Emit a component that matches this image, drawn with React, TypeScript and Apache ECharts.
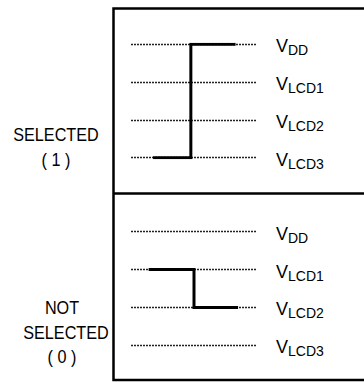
import React, { useEffect, useRef } from "react";
import * as echarts from "echarts";

// Voltage levels, bottom to top
const levelValues = [0, 1, 2, 3];
const levelNames = ["LCD3", "LCD2", "LCD1", "DD"];

// Time axis (arbitrary units across the dotted reference lines)
const timeMin = 0;
const timeMax = 10;

// Waveforms: [time, level]
const selectedWave: [number, number][] = [
  [1.75, 0],
  [4.75, 0],
  [4.75, 3],
  [8.3, 3],
];
const notSelectedWave: [number, number][] = [
  [1.4, 2],
  [5.0, 2],
  [5.0, 1],
  [8.5, 1],
];

// Panel annotations
const panelLabels = [
  ["SELECTED", "( 1 )"],
  ["NOT", "SELECTED", "( 0 )"],
];

const FONT = '"Liberation Sans Narrow", "Liberation Sans", Arial, sans-serif';
const FONT_L = '"Liberation Sans", Arial, sans-serif';

export default function App() {
  const ref = useRef<HTMLDivElement>(null);

  useEffect(() => {
    if (!ref.current) return;
    const chart = echarts.init(ref.current, null, { renderer: "svg" });

    const grids = [
      { left: 131, width: 126, top: 44.3, height: 113.4 },
      { left: 131, width: 126, top: 231.7, height: 113.6 },
    ];

    const makeYAxis = (gridIndex: number) => ({
      type: "value" as const,
      gridIndex,
      min: 0,
      max: 3,
      interval: 1,
      position: "right" as const,
      axisLine: { show: false },
      axisTick: { show: false },
      splitLine: {
        show: true,
        lineStyle: { type: [2, 1], color: "#222", width: 1.3 },
      },
      axisLabel: {
        margin: 19,
        formatter: (v: number) => {
          const i = levelValues.indexOf(v);
          return i >= 0 ? `{v|V}{s|${levelNames[i]}}` : "";
        },
        rich: {
          v: {
            fontFamily: FONT,
            fontSize: 18,
            color: "#000",
            lineHeight: 26,
            verticalAlign: "middle",
            padding: [4, 0, 0, 0],
          },
          s: {
            fontFamily: FONT,
            fontSize: 14,
            color: "#000",
            lineHeight: 26,
            verticalAlign: "bottom",
          },
        },
      },
    });

    const makeXAxis = (gridIndex: number) => ({
      type: "value" as const,
      gridIndex,
      min: timeMin,
      max: timeMax,
      show: false,
    });

    const waveSeries = (data: [number, number][], idx: number) => ({
      type: "line" as const,
      xAxisIndex: idx,
      yAxisIndex: idx,
      data,
      symbol: "none",
      lineStyle: { color: "#000", width: 3, cap: "butt", join: "miter" },
      z: 5,
    });

    const textEls: any[] = [];
    const labelPos = [
      { xs: [56, 56], ys: [135, 160] },
      { xs: [62, 66, 62], ys: [308, 333, 357] },
    ];
    panelLabels.forEach((lines, p) => {
      lines.forEach((t, i) => {
        textEls.push({
          type: "text",
          x: labelPos[p].xs[i],
          y: labelPos[p].ys[i],
          scaleX: 0.9,
          style: {
            text: t,
            fill: "#000",
            font: `18px ${FONT_L}`,
            textAlign: "center",
            textVerticalAlign: "middle",
          },
        });
      });
    });

    chart.setOption({
      animation: false,
      grid: grids,
      xAxis: [makeXAxis(0), makeXAxis(1)],
      yAxis: [makeYAxis(0), makeYAxis(1)],
      series: [waveSeries(selectedWave, 0), waveSeries(notSelectedWave, 1)],
      graphic: [
        {
          type: "polyline",
          shape: {
            points: [
              [400, 8.5],
              [113.5, 8.5],
              [113.5, 380],
              [400, 380],
            ],
          },
          style: { stroke: "#000", lineWidth: 2.5, fill: null },
        },
        {
          type: "line",
          shape: { x1: 113.5, y1: 193.5, x2: 400, y2: 193.5 },
          style: { stroke: "#000", lineWidth: 2.5 },
        },
        ...textEls,
      ],
    });

    return () => chart.dispose();
  }, []);

  return (
    <div
      ref={ref}
      style={{
        position: "fixed",
        left: 0,
        top: 0,
        width: 364,
        height: 382,
        background: "#fff",
      }}
    />
  );
}
